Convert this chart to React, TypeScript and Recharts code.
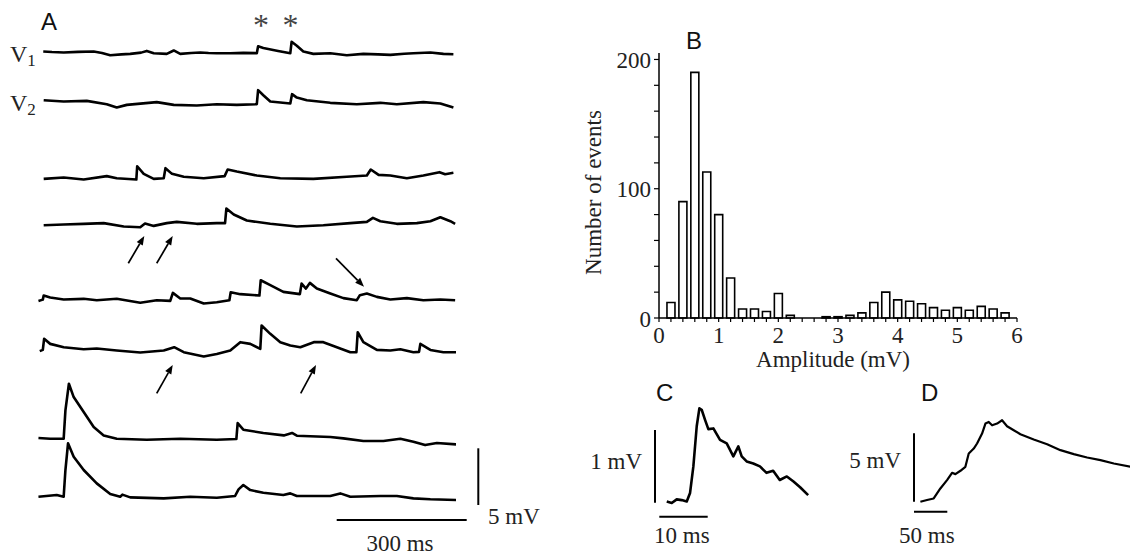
import { LineChart, Line, XAxis, YAxis, BarChart, Bar } from 'recharts';

const SERIF = "'Liberation Serif', 'Times New Roman', serif";
const SANS = "'Liberation Sans', Arial, sans-serif";

// Panel A traces: [time (ms), membrane potential relative to baseline (mV)]
const V1_TRACE = [
  [0, 0.15], [20, 0.1], [47, 0.06], [80, 0.12], [116, 0.15], [135, 0.02], [154, -0.18], [180, -0.1],
  [200, -0.06], [225, 0.05], [238, 0.2], [254, 0], [284, -0.06], [300, 0.24], [315, -0.06], [340, 0.02],
  [361, 0.06], [380, 0.02], [399, 0], [430, 0], [460, 0.03], [491, 0], [494, 0.6], [506, 0.45],
  [540, 0.2], [568, 0], [571, 1.0], [583, 0.65], [598, 0.15], [621, -0.06], [660, 0], [698, -0.18],
  [736, -0.06], [770, -0.1], [798, -0.15], [830, -0.05], [851, 0], [890, 0.06], [920, -0.06], [943, -0.09],
];
const V2_TRACE = [
  [1, 0.35], [47, 0.23], [100, 0.29], [146, 0], [169, -0.29], [192, -0.06], [261, 0.18], [300, -0.06],
  [353, -0.12], [399, 0], [445, -0.06], [491, 0], [494, 1.23], [506, 0.79], [522, 0.23], [568, 0.06],
  [572, 0.88], [583, 0.58], [606, 0.35], [660, 0.12], [721, 0], [775, 0.12], [813, 0], [874, 0.18],
  [913, 0.06], [943, -0.29],
];
const TRACE_3 = [
  [1, -0.06], [47, 0.06], [93, -0.12], [146, 0.18], [169, 0], [214, -0.12], [216, 1.05], [231, 0.38],
  [254, -0.06], [277, 0], [281, 0.88], [296, 0.38], [323, 0.12], [369, 0], [417, 0.18], [424, 0.76],
  [445, 0.58], [491, 0.23], [545, 0], [621, -0.06], [698, 0.12], [744, 0.23], [753, 0.76], [771, 0.29],
  [798, 0.23], [836, 0], [874, 0.23], [911, 0.53], [924, 0.35], [943, 0.47],
];
const TRACE_4 = [
  [1, 0], [47, 0.06], [93, 0.12], [139, 0.18], [185, -0.12], [223, -0.18], [234, 0.15], [254, -0.06],
  [284, 0.18], [307, 0.29], [353, 0.12], [399, 0.18], [418, 0.18], [421, 1.46], [438, 0.94], [468, 0.41],
  [522, 0.12], [583, -0.12], [644, 0], [706, 0.18], [744, 0.29], [758, 0.64], [775, 0.35], [813, 0.12],
  [859, 0.18], [890, 0.35], [913, 0.7], [936, 0.35], [947, 0.12],
];
const TRACE_5 = [
  [-11, -0.06], [-1, 0.05], [1, 0.41], [16, 0.23], [47, 0.06], [93, 0.12], [123, 0], [169, 0.12],
  [223, -0.23], [261, 0], [292, -0.06], [298, 0.64], [315, 0.15], [338, 0.15], [369, -0.29], [399, -0.18],
  [428, 0], [431, 0.7], [453, 0.53], [497, 0.41], [500, 1.75], [522, 1.32], [552, 0.73], [590, 0.53],
  [594, 1.46], [604, 1.02], [613, 1.52], [629, 1.02], [660, 0.58], [690, 0.18], [721, 0], [728, 0.44],
  [744, 0.58], [767, 0.29], [798, 0.06], [836, 0.18], [874, 0], [913, 0.06], [947, 0],
];
const TRACE_6 = [
  [-8, 0.09], [-1, 0.2], [2, 1.17], [16, 0.73], [47, 0.44], [93, 0.26], [123, 0.32], [169, 0.15],
  [223, -0.03], [277, 0.15], [301, 0.44], [323, 0], [369, -0.38], [399, -0.15], [430, 0.15], [453, 0.88],
  [476, 0.73], [499, 0.29], [502, 2.34], [522, 1.61], [545, 0.88], [568, 0.58], [591, 0.44], [622, 0.88],
  [644, 0.88], [675, 0.44], [706, 0], [720, 0], [723, 1.75], [736, 0.88], [767, 0.2], [798, 0.15],
  [821, 0.26], [851, 0], [864, 0.03], [867, 0.73], [890, 0.2], [920, 0], [949, 0],
];
const TRACE_7 = [
  [-11, 0.06], [16, 0], [47, 0], [51, 2.49], [59, 4.82], [70, 3.65], [93, 2.34], [116, 1.02],
  [139, 0.29], [169, 0], [238, -0.09], [315, 0], [399, -0.09], [444, -0.03], [447, 1.37], [460, 0.79],
  [506, 0.5], [553, 0.29], [572, 0.5], [583, 0.26], [660, 0.15], [690, 0.03], [736, -0.2], [782, -0.2],
  [821, 0], [851, -0.26], [878, -0.56], [905, -0.38], [949, -0.5],
];
const TRACE_8 = [
  [-11, 0], [31, 0.15], [47, 0], [51, 2.34], [57, 4.68], [70, 3.51], [93, 2.34], [123, 1.17],
  [154, 0.23], [177, 0], [182, 0.18], [200, -0.06], [277, -0.15], [338, 0], [399, -0.09], [441, 0.06],
  [449, 0.64], [460, 1.02], [476, 0.58], [506, 0.35], [552, 0.15], [568, 0.29], [583, 0.06], [660, 0.06],
  [683, 0.29], [706, 0], [775, 0.06], [813, 0.06], [851, -0.15], [890, -0.23], [949, -0.29],
];

// Panel B histogram
const AMP_BINS = [0.2, 0.4, 0.6, 0.8, 1.0, 1.2, 1.4, 1.6, 1.8, 2.0, 2.2, 2.4, 2.6, 2.8, 3.0, 3.2, 3.4, 3.6, 3.8, 4.0, 4.2, 4.4, 4.6, 4.8, 5.0, 5.2, 5.4, 5.6, 5.8];
const EVENT_COUNTS = [12, 90, 190, 113, 80, 31, 7, 7, 5, 19, 2, 0, 0, 1, 1, 2, 4, 12, 20, 14, 13, 11, 8, 6, 8, 6, 9, 7, 4];
const AMP_TICKS = [0, 0.2, 0.4, 0.6, 0.8, 1, 1.2, 1.4, 1.6, 1.8, 2, 2.2, 2.4, 2.6, 2.8, 3, 3.2, 3.4, 3.6, 3.8, 4, 4.2, 4.4, 4.6, 4.8, 5, 5.2, 5.4, 5.6, 5.8, 6];
const COUNT_TICKS = [0, 20, 40, 60, 80, 100, 120, 140, 160, 180, 200];

// Panels C and D: single events
const C_TRACE = [
  [0, 0], [1.06, -0.02], [2.11, 0.03], [3.17, 0.02], [4.23, 0], [4.93, 0.12], [5.63, 0.49], [6.34, 1.05],
  [6.9, 1.3], [7.39, 1.28], [8.1, 1.14], [8.8, 1.01], [9.86, 1.02], [11.27, 0.86], [12.68, 0.81], [14.08, 0.63],
  [15.14, 0.77], [15.85, 0.63], [16.9, 0.56], [18.3, 0.53], [19.7, 0.49], [21.1, 0.4], [22.5, 0.43], [23.9, 0.3],
  [25.4, 0.35], [26.8, 0.28], [28.2, 0.2], [29.9, 0.09],
];
const D_TRACE = [
  [0, 0], [9.7, 0.13], [19.4, 0.25], [29.1, 1.0], [38.8, 1.63], [46.1, 2.18], [51, 2.08], [58.3, 2.33],
  [65.5, 2.63], [70.4, 3.63], [77.7, 4.0], [82.5, 4.38], [89.8, 5.13], [94.7, 5.88], [99.5, 6.0], [104.4, 5.75],
  [111.7, 5.88], [118.9, 6.13], [126.2, 5.68], [135.9, 5.38], [145.6, 5.08], [165, 4.68], [184.5, 4.33], [203.9, 3.88],
  [223.3, 3.58], [242.7, 3.33], [262.1, 3.13], [281.6, 2.88], [305.8, 2.63],
];

// layout of panel A: baseline y of each sweep
const A_SWEEPS = [
  { pts: V1_TRACE, base: 53.3, tall: false },
  { pts: V2_TRACE, base: 104, tall: false },
  { pts: TRACE_3, base: 177.7, tall: false },
  { pts: TRACE_4, base: 225, tall: false },
  { pts: TRACE_5, base: 300, tall: false },
  { pts: TRACE_6, base: 351.7, tall: false },
  { pts: TRACE_7, base: 438.3, tall: true },
  { pts: TRACE_8, base: 496.7, tall: true },
];
const A_MS = 0.435;
const A_MV = 11.4;

type TraceProps = {
  pts: number[][];
  left: number;
  top: number;
  width: number;
  height: number;
  xDomain: [number, number];
  yDomain: [number, number];
  sw?: number;
};

function Trace({ pts, left, top, width, height, xDomain, yDomain, sw = 2.6 }: TraceProps) {
  const data = pts.map(([t, v]) => ({ t, v }));
  return (
    <div style={{ position: 'absolute', left, top }}>
      <LineChart width={width} height={height} data={data} margin={{ top: 0, right: 0, bottom: 0, left: 0 }}>
        <XAxis type="number" dataKey="t" domain={xDomain} hide />
        <YAxis type="number" domain={yDomain} hide />
        <Line type="linear" dataKey="v" stroke="#000" strokeWidth={sw} strokeLinejoin="round" dot={false} isAnimationActive={false} />
      </LineChart>
    </div>
  );
}

function AmpTick({ x, y, payload }: any) {
  const v = payload.value;
  if (Math.abs(v - Math.round(v)) > 0.001) return <g />;
  return (
    <text x={x} y={y} dy={19} textAnchor="middle" fontFamily={SERIF} fontSize={23} fill="#222">
      {Math.round(v)}
    </text>
  );
}

function CountTick({ x, y, payload }: any) {
  if (payload.value % 100 !== 0) return <g />;
  return (
    <text x={x - 1} y={y} dy={8.5} textAnchor="end" fontFamily={SERIF} fontSize={23} fill="#222">
      {payload.value}
    </text>
  );
}

function Arrow({ x1, y1, x2, y2 }: { x1: number; y1: number; x2: number; y2: number }) {
  const a = Math.atan2(y2 - y1, x2 - x1);
  const L = 9;
  const W = 3.5;
  const bx = x2 - L * Math.cos(a);
  const by = y2 - L * Math.sin(a);
  const px = -Math.sin(a) * W;
  const py = Math.cos(a) * W;
  return (
    <g>
      <line x1={x1} y1={y1} x2={bx} y2={by} stroke="#000" strokeWidth={1.7} />
      <polygon points={`${x2},${y2} ${bx + px},${by + py} ${bx - px},${by - py}`} fill="#000" />
    </g>
  );
}

export default function App() {
  const histData = AMP_BINS.map((amp, i) => ({ amp, count: EVENT_COUNTS[i] }));
  const aLeft = 43 - 12 * A_MS;
  const aWidth = 962 * A_MS;

  return (
    <div style={{ position: 'absolute', left: 0, top: 0, width: 1130, height: 556, background: '#fff', overflow: 'hidden' }}>
      {A_SWEEPS.map((s, i) => (
        <Trace
          key={i}
          pts={s.pts}
          left={aLeft}
          width={aWidth}
          top={s.tall ? s.base - 5.5 * A_MV : s.base - 3 * A_MV}
          height={s.tall ? 6.5 * A_MV : 4 * A_MV}
          xDomain={[-12, 950]}
          yDomain={s.tall ? [-1, 5.5] : [-1, 3]}
        />
      ))}

      <div style={{ position: 'absolute', left: 600, top: 40 }}>
        <BarChart width={440} height={308} data={histData} margin={{ top: 13, right: 23, bottom: 0, left: 0 }}>
          <XAxis
            type="number"
            dataKey="amp"
            domain={[0, 6]}
            ticks={AMP_TICKS}
            interval={0}
            tick={<AmpTick />}
            tickSize={4}
            height={30}
            axisLine={{ stroke: '#000', strokeWidth: 1.5 }}
            tickLine={{ stroke: '#000', strokeWidth: 1.2 }}
          />
          <YAxis
            type="number"
            domain={[0, 205]}
            ticks={COUNT_TICKS}
            interval={0}
            tick={<CountTick />}
            tickSize={5}
            width={59}
            axisLine={{ stroke: '#000', strokeWidth: 1.5 }}
            tickLine={{ stroke: '#000', strokeWidth: 1.2 }}
          />
          <Bar dataKey="count" fill="#fff" stroke="#000" strokeWidth={1.6} barSize={8} isAnimationActive={false} />
        </BarChart>
      </div>

      <Trace pts={C_TRACE} left={666.7 - 4.73} top={502 - 1.5 * 71.7} width={32 * 4.73} height={1.7 * 71.7} xDomain={[-1, 31]} yDomain={[-0.2, 1.5]} />
      <Trace pts={D_TRACE} left={920.5 - 2 * 0.687} top={502 - 6.6 * 13.3} width={312 * 0.687} height={7.1 * 13.3} xDomain={[-2, 310]} yDomain={[-0.5, 6.6]} sw={2.2} />

      <svg width={1130} height={556} style={{ position: 'absolute', left: 0, top: 0, pointerEvents: 'none' }}>
        <g fontFamily={SANS} fontSize={24} fill="#111">
          <text x={41} y={30}>A</text>
          <text x={686} y={49}>B</text>
          <text x={656} y={401}>C</text>
          <text x={921} y={401}>D</text>
        </g>
        <g fontFamily={SERIF} fill="#222">
          <text x={10} y={61.5} fontSize={24}>V<tspan fontSize={17} dy={4}>1</tspan></text>
          <text x={10} y={111} fontSize={24}>V<tspan fontSize={17} dy={4}>2</tspan></text>
          <text x={261} y={36} fontSize={32} textAnchor="middle" fill="#444">*</text>
          <text x={290.5} y={36} fontSize={32} textAnchor="middle" fill="#444">*</text>
        </g>

        <Arrow x1={128.3} y1={263.3} x2={144.3} y2={236} />
        <Arrow x1={156.7} y1={263.3} x2={172.7} y2={236} />
        <Arrow x1={336} y1={258.3} x2={364} y2={286.7} />
        <Arrow x1={156.7} y1={393.3} x2={172.7} y2={365} />
        <Arrow x1={300.7} y1={393.3} x2={316} y2={365} />

        {/* scale bars */}
        <g stroke="#000" strokeWidth={2}>
          <line x1={478.3} y1={448.3} x2={478.3} y2={505} />
          <line x1={336.7} y1={520} x2={466.7} y2={520} />
          <line x1={655} y1={430} x2={655} y2={502.7} />
          <line x1={659.3} y1={516.7} x2={707.7} y2={516.7} />
          <line x1={914} y1={433.3} x2={914} y2={501.7} />
          <line x1={914} y1={511.7} x2={947.3} y2={511.7} />
        </g>
        <g fontFamily={SERIF} fontSize={23} fill="#222">
          <text x={488} y={524}>5 mV</text>
          <text x={400} y={551} textAnchor="middle">300 ms</text>
          <text x={642} y={469} textAnchor="end">1 mV</text>
          <text x={654} y={543}>10 ms</text>
          <text x={901} y={468} textAnchor="end">5 mV</text>
          <text x={899} y={543}>50 ms</text>
          <text x={833} y={367} textAnchor="middle">Amplitude (mV)</text>
          <text transform="translate(601,192.5) rotate(-90)" textAnchor="middle">Number of events</text>
        </g>
      </svg>
    </div>
  );
}
